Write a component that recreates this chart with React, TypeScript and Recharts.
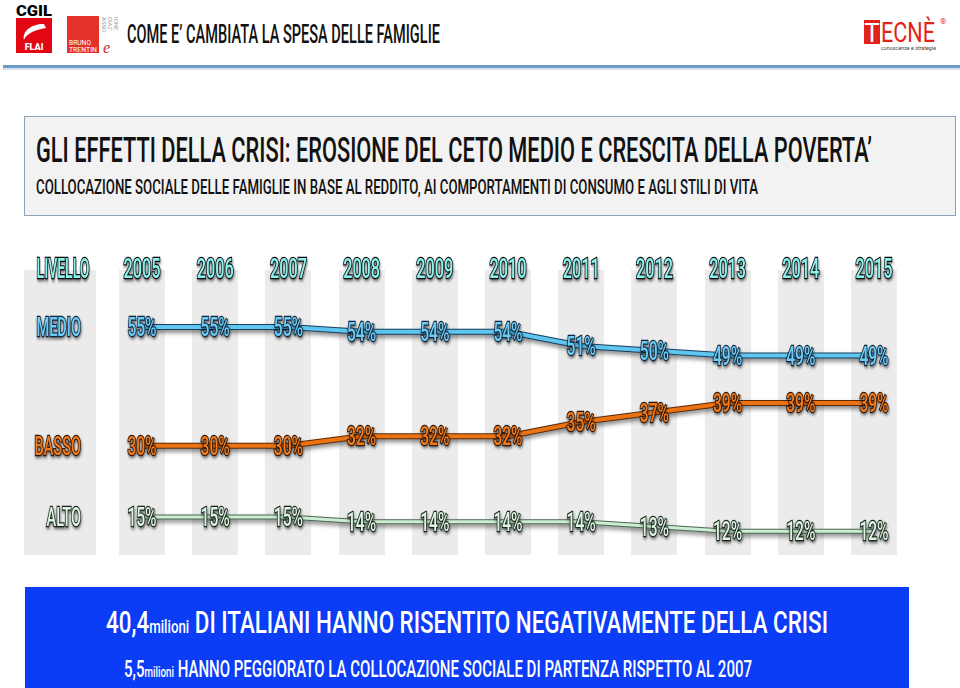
import React from 'react';
import { LineChart, Line, XAxis, YAxis, CartesianGrid, LabelList } from 'recharts';

const years = ['2005', '2006', '2007', '2008', '2009', '2010', '2011', '2012', '2013', '2014', '2015'];
const medio = [55, 55, 55, 54, 54, 54, 51, 50, 49, 49, 49];
const basso = [30, 30, 30, 32, 32, 32, 35, 37, 39, 39, 39];
const alto = [15, 15, 15, 14, 14, 14, 14, 13, 12, 12, 12];
const rowNames = ['MEDIO', 'BASSO', 'ALTO'];

const data = years.map((year, i) => ({ year, medio: medio[i], basso: basso[i], alto: alto[i] }));

interface Serie {
  key: 'medio' | 'basso' | 'alto';
  name: string;
  first: number;
  line: string;
  under: string;
  text: string;
  edge: string;
  width: number;
}

const series: Serie[] = [
  { key: 'medio', name: rowNames[0], first: medio[0], line: '#5ec6ef', under: '#173f5e', text: '#6fcbf2', edge: '#0c2640', width: 4 },
  { key: 'basso', name: rowNames[1], first: basso[0], line: '#ec7314', under: '#5a2a08', text: '#f27b1c', edge: '#2e1404', width: 4 },
  { key: 'alto', name: rowNames[2], first: alto[0], line: '#ccefd3', under: '#4d6654', text: '#dcf5e0', edge: '#18231b', width: 3 },
];

const FONT = 'Roboto, "Open Sans", sans-serif';
const SQUEEZE = 0.6;
const Y_AXIS_W = 118;
const BAND_HALF = 23;
const LEVEL_BAND = 72;
const shadow = 'drop-shadow(1px 2px 1.5px rgba(0,0,0,0.55))';

const Outlined = ({ x, y, label, fill, edge, anchor = 'middle', size = 26, squeeze = SQUEEZE }: any) => (
  <text
    transform={`translate(${x},${y}) scale(${squeeze},1)`}
    textAnchor={anchor}
    fontFamily={FONT}
    fontWeight={500}
    fontSize={size}
    fill={fill}
    stroke={edge}
    strokeWidth={2.4}
    paintOrder="stroke"
    style={{ filter: shadow }}
  >
    {label}
  </text>
);

const YearTick = ({ x, y, payload }: any) => (
  <Outlined x={x} y={y + 8} size={28} squeeze={0.58} label={payload.value} fill="#8cf2ee" edge="#050a0a" />
);

const RowTick = ({ x, y, payload }: any) => {
  const s = series.find((d) => d.first === payload.value);
  if (!s) return null;
  return <Outlined x={x - 61} y={y + 9} anchor="end" squeeze={0.56} label={s.name} fill={s.text} edge={s.edge} />;
};

const LevelLabel = (props: any) => {
  const vb = props.viewBox || { x: 24, y: 270 };
  return <Outlined x={vb.x + 39} y={vb.y + 8} size={28} squeeze={0.5} label="LIVELLO" fill="#8cf2ee" edge="#050a0a" />;
};

const makeValueLabel = (s: Serie) => (props: any) => {
  const { x, y, value } = props;
  if (x == null || y == null) return null;
  return <Outlined x={x} y={y + 9} label={`${value}%`} fill={s.text} edge={s.edge} />;
};

const bandEdges = ({ offset }: any) => {
  const step = offset.width / (years.length - 1);
  const levelLeft = offset.left - Y_AXIS_W;
  const pts = [levelLeft, levelLeft + LEVEL_BAND];
  years.forEach((_, i) => {
    const cx = offset.left + i * step;
    pts.push(cx - BAND_HALF, cx + BAND_HALF);
  });
  return pts;
};

const Banner = () => (
  <svg width={960} height={688} style={{ position: 'absolute', left: 0, top: 0 }}>
    {/* CGIL FLAI logo */}
    <text x={16} y={16} fontFamily="Roboto" fontWeight={900} fontSize={15} textLength={36} lengthAdjust="spacingAndGlyphs">CGIL</text>
    <rect x={16} y={18} width={36} height={35} fill="#e30613" />
    <path d="M44 24 C30 24 22 32 24 40 C25 36 32 30 46 28 Z" fill="#fff" />
    <text x={34} y={50} textAnchor="middle" fontFamily="Roboto" fontWeight={900} fontSize={9} fill="#fff">FLAI</text>
    {/* Bruno Trentin logo */}
    <rect x={67} y={16} width={32} height={37} fill="#e4322b" />
    <text x={69} y={45} fontFamily="Roboto" fontSize={7.5} fill="#fff" textLength={22} lengthAdjust="spacingAndGlyphs">BRUNO</text>
    <text x={69} y={52} fontFamily="Roboto" fontSize={7.5} fill="#fff" textLength={28} lengthAdjust="spacingAndGlyphs">TRENTIN</text>
    <text transform="translate(102,17) rotate(90)" fontFamily="Roboto" fontSize={6} fill="#999">ASSO</text>
    <text transform="translate(108,17) rotate(90)" fontFamily="Roboto" fontSize={6} fill="#999">CIAZ</text>
    <text transform="translate(114,17) rotate(90)" fontFamily="Roboto" fontSize={6} fill="#999">IONE</text>
    <text x={103} y={53} fontFamily="Georgia, serif" fontStyle="italic" fontSize={16} fill="#c0272d">e</text>
    {/* header */}
    <text x={127} y={43} fontFamily={FONT} fontWeight={500} fontSize={25} fill="#111" textLength={313} lengthAdjust="spacingAndGlyphs">
      COME E’ CAMBIATA LA SPESA DELLE FAMIGLIE
    </text>
    {/* TECNE logo */}
    <rect x={864} y={20} width={16} height={24} fill="#e2231a" />
    <text x={872} y={42} textAnchor="middle" fontFamily="Roboto" fontSize={26} fill="#fff">T</text>
    <text x={881} y={42} fontFamily="Roboto" fontSize={27} fill="#e2231a" textLength={54} lengthAdjust="spacingAndGlyphs">ECNÈ</text>
    <text x={940} y={24} fontFamily="Roboto" fontSize={8} fill="#e2231a">®</text>
    <text x={881} y={50} fontFamily="Roboto" fontSize={6} fill="#444" textLength={55} lengthAdjust="spacingAndGlyphs">conoscenze e strategie</text>
    <rect x={3} y={65} width={957} height={3} fill="#6b9ac6" />
    <rect x={3} y={68} width={957} height={2} fill="#d7e2ec" />
    {/* title box */}
    <rect x={24.5} y={116.5} width={931} height={99} fill="#f2f2f2" stroke="#8ea2bb" />
    <text x={36} y={162} fontFamily={FONT} fontWeight={500} fontSize={35} fill="#111" textLength={836} lengthAdjust="spacingAndGlyphs">
      GLI EFFETTI DELLA CRISI: EROSIONE DEL CETO MEDIO E CRESCITA DELLA POVERTA’
    </text>
    <text x={36} y={194} fontFamily={FONT} fontWeight={500} fontSize={21} fill="#111" textLength={722} lengthAdjust="spacingAndGlyphs">
      COLLOCAZIONE SOCIALE DELLE FAMIGLIE IN BASE AL REDDITO, AI COMPORTAMENTI DI CONSUMO E AGLI STILI DI VITA
    </text>
    {/* bottom box */}
    <rect x={25} y={587} width={884} height={101} fill="#0b3cf6" />
    <text x={106} y={633} fontFamily={FONT} fontWeight={500} fill="#fff" textLength={722} lengthAdjust="spacingAndGlyphs">
      <tspan fontSize={32}>40,4</tspan>
      <tspan fontSize={19}>milioni</tspan>
      <tspan fontSize={32}> DI ITALIANI HANNO RISENTITO NEGATIVAMENTE DELLA CRISI</tspan>
    </text>
    <text x={124} y={677} fontFamily={FONT} fontWeight={500} fill="#fff" textLength={628} lengthAdjust="spacingAndGlyphs">
      <tspan fontSize={23}>5,5</tspan>
      <tspan fontSize={15}>milioni</tspan>
      <tspan fontSize={23}> HANNO PEGGIORATO LA COLLOCAZIONE SOCIALE DI PARTENZA RISPETTO AL 2007</tspan>
    </text>
  </svg>
);

export default function App() {
  return (
    <div style={{ position: 'absolute', left: 0, top: 0, width: 960, height: 688, background: '#fff', overflow: 'hidden' }}>
      <style>{`.under path.recharts-line-curve { filter: drop-shadow(1px 3px 2px rgba(0,0,0,0.45)); }`}</style>
      <Banner />
      <div style={{ position: 'absolute', left: 0, top: 240 }}>
        <LineChart width={960} height={340} data={data} margin={{ top: 0, right: 86, bottom: 25, left: 24 }}>
          <CartesianGrid
            horizontal={false}
            vertical
            stroke="transparent"
            verticalFill={['transparent', '#ebebeb']}
            verticalCoordinatesGenerator={bandEdges}
          />
          <XAxis
            dataKey="year"
            orientation="top"
            height={30}
            axisLine={false}
            tickLine={false}
            tickSize={0}
            tickMargin={0}
            interval={0}
            tick={<YearTick />}
          />
          <YAxis
            type="number"
            domain={[7, 67]}
            ticks={series.map((s) => s.first)}
            width={Y_AXIS_W}
            axisLine={false}
            tickLine={false}
            tickSize={0}
            tickMargin={0}
            tick={<RowTick />}
            label={{ content: LevelLabel }}
          />
          {series.map((s) => (
            <Line
              key={`${s.key}-under`}
              className="under"
              dataKey={s.key}
              stroke={s.under}
              strokeWidth={s.width + 2}
              dot={false}
              activeDot={false}
              isAnimationActive={false}
            />
          ))}
          {series.map((s) => (
            <Line
              key={s.key}
              dataKey={s.key}
              stroke={s.line}
              strokeWidth={s.width}
              dot={false}
              activeDot={false}
              isAnimationActive={false}
            >
              <LabelList dataKey={s.key} content={makeValueLabel(s)} />
            </Line>
          ))}
        </LineChart>
      </div>
    </div>
  );
}
